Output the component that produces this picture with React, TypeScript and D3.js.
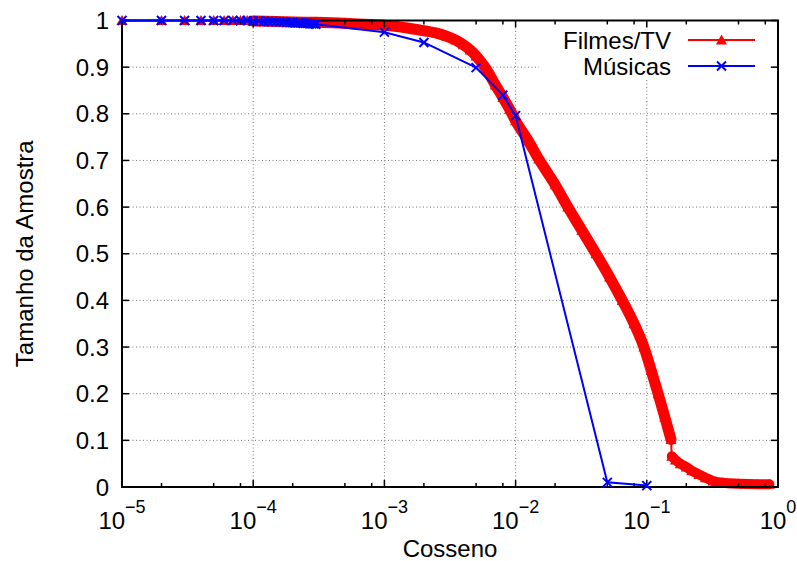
import React from "react";
import * as d3 from "d3";

const W = 797;
const H = 561;

const xTickValues = [1e-5, 1e-4, 1e-3, 1e-2, 1e-1, 1];
const xTickExponents = ["−5", "−4", "−3", "−2", "−1", "0"];
const minorMultipliers = [2, 5, 8];
const yTickValues = [0, 0.1, 0.2, 0.3, 0.4, 0.5, 0.6, 0.7, 0.8, 0.9, 1];
const yTickLabels = ["0", "0.1", "0.2", "0.3", "0.4", "0.5", "0.6", "0.7", "0.8", "0.9", "1"];

const seriesNames = ["Filmes/TV", "Músicas"];
const xTitle = "Cosseno";
const yTitle = "Tamanho da Amostra";

// Filmes/TV – sparse start
const filmesSparseX = [1e-5, 2e-5, 3e-5, 4e-5, 5e-5, 6e-5, 7e-5, 8e-5, 9e-5, 1e-4];
const filmesSparseY = [1, 1, 1, 1, 1, 1, 1, 1, 1, 0.999];
// Filmes/TV – dense part (upper)
const filmesUpperX = [
  1e-4, 1.5e-4, 2e-4, 3e-4, 5e-4, 7e-4, 1e-3, 1.5e-3, 2e-3, 2.5e-3, 3e-3, 3.5e-3, 4e-3, 4.5e-3,
  5e-3, 5.5e-3, 6e-3, 7e-3, 8e-3, 9e-3, 1e-2, 1.25e-2, 1.5e-2, 2e-2, 2.5e-2, 3.2e-2, 4.1e-2,
  5.2e-2, 6.5e-2, 8e-2, 9.5e-2, 0.108, 0.122, 0.137, 0.153,
];
const filmesUpperY = [
  0.999, 0.998, 0.997, 0.996, 0.994, 0.992, 0.99, 0.984, 0.978, 0.973, 0.966, 0.958, 0.948, 0.937,
  0.924, 0.91, 0.895, 0.862, 0.835, 0.81, 0.785, 0.742, 0.703, 0.648, 0.6, 0.55, 0.5,
  0.45, 0.4, 0.35, 0.3, 0.25, 0.2, 0.15, 0.102,
];
// Filmes/TV – dense part (lower tail)
const filmesLowerX = [0.155, 0.165, 0.18, 0.2, 0.22, 0.25, 0.28, 0.32, 0.38, 0.5, 0.7, 0.86];
const filmesLowerY = [0.066, 0.058, 0.05, 0.043, 0.035, 0.027, 0.02, 0.013, 0.009, 0.007, 0.006, 0.006];

// Músicas
const musicasX = [
  1e-5, 2e-5, 3e-5, 4e-5, 5e-5, 6e-5, 7e-5, 8e-5, 9e-5,
  1e-4, 1.1e-4, 1.2e-4, 1.3e-4, 1.4e-4, 1.5e-4, 1.6e-4, 1.7e-4, 1.8e-4, 1.9e-4, 2e-4,
  2.1e-4, 2.2e-4, 2.3e-4, 2.4e-4, 2.5e-4, 2.6e-4, 2.7e-4, 2.8e-4, 2.9e-4, 3e-4,
  1e-3, 2e-3, 5e-3, 8e-3, 1e-2, 5e-2, 1e-1,
];
const musicasY = [
  1, 1, 1, 1, 1, 1, 1, 1, 1,
  0.999, 0.999, 0.998, 0.998, 0.998, 0.997, 0.997, 0.997, 0.996, 0.996, 0.996,
  0.995, 0.995, 0.995, 0.994, 0.994, 0.994, 0.993, 0.993, 0.993, 0.992,
  0.975, 0.953, 0.899, 0.84, 0.796, 0.01, 0.003,
];

const FONT = "'Liberation Sans', Arial, Helvetica, sans-serif";
const RED = "#ff0000";
const BLUE = "#0000ff";

const left = 122;
const right = 778;
const top = 20.5;
const bottom = 487;

const x = d3.scaleLog().domain([1e-5, 1]).range([left, right]);
const y = d3.scaleLinear().domain([0, 1]).range([bottom, top]);

function pts(xs: number[], ys: number[]): [number, number][] {
  return xs.map((v, i) => [x(v), y(ys[i])]);
}

const line = d3.line<[number, number]>();
const smoothLine = d3.line<[number, number]>().curve(d3.curveMonotoneX);

function Triangle({ cx, cy }: { cx: number; cy: number }) {
  return <path d={`M${cx - 5.5},${cy + 4.5} L${cx + 5.5},${cy + 4.5} L${cx},${cy - 5.5} Z`} fill={RED} />;
}

function Cross({ cx, cy }: { cx: number; cy: number }) {
  const s = 4.5;
  return (
    <path
      d={`M${cx - s},${cy - s} L${cx + s},${cy + s} M${cx - s},${cy + s} L${cx + s},${cy - s}`}
      stroke={BLUE}
      strokeWidth={2}
    />
  );
}

export default function App() {
  const minorTicks: number[] = [];
  for (let e = -5; e < 0; e++) {
    minorMultipliers.forEach((m) => minorTicks.push(m * Math.pow(10, e)));
  }

  const sparse = pts(filmesSparseX, filmesSparseY);
  const upper = pts(filmesUpperX, filmesUpperY);
  const lower = pts(filmesLowerX, filmesLowerY);
  const allRed = [...sparse, ...upper, ...lower];
  const blue = pts(musicasX, musicasY);

  const legendX1 = 688;
  const legendX2 = 755;
  const legendY = [40, 66];

  return (
    <svg
      width={W}
      height={H}
      style={{ position: "absolute", left: 0, top: 0, background: "#fff" }}
      fontFamily={FONT}
    >
      <rect x={0} y={0} width={W} height={H} fill="#fff" />
      {/* grid */}
      <g stroke="#777" strokeWidth={1} strokeDasharray="1,2.5">
        {xTickValues.slice(1, -1).map((v, i) => (
          <line key={"gx" + i} x1={x(v)} x2={x(v)} y1={top} y2={bottom} />
        ))}
        {yTickValues.slice(1, -1).map((v, i) => (
          <line key={"gy" + i} x1={left} x2={right} y1={y(v)} y2={y(v)} />
        ))}
      </g>
      {/* legend box background */}
      <rect x={539} y={22} width={231} height={58} fill="#fff" />

      {/* Filmes/TV */}
      <path d={line(allRed) || ""} fill="none" stroke={RED} strokeWidth={2} />
      <path d={smoothLine(upper) || ""} fill="none" stroke={RED} strokeWidth={11} strokeLinejoin="round" strokeLinecap="round" />
      <path d={smoothLine(lower) || ""} fill="none" stroke={RED} strokeWidth={10} strokeLinejoin="round" strokeLinecap="round" />
      {allRed.map((p, i) => (
        <Triangle key={"t" + i} cx={p[0]} cy={p[1]} />
      ))}

      {/* axes / border */}
      <rect x={left} y={top} width={right - left} height={bottom - top} fill="none" stroke="#000" strokeWidth={2} />
      <g stroke="#000" strokeWidth={1.5}>
        {xTickValues.map((v, i) => (
          <g key={"xt" + i}>
            <line x1={x(v)} x2={x(v)} y1={bottom} y2={bottom - 7} />
            <line x1={x(v)} x2={x(v)} y1={top} y2={top + 7} />
          </g>
        ))}
        {minorTicks.map((v, i) => (
          <g key={"xm" + i}>
            <line x1={x(v)} x2={x(v)} y1={bottom} y2={bottom - 4} />
            <line x1={x(v)} x2={x(v)} y1={top} y2={top + 4} />
          </g>
        ))}
        {yTickValues.map((v, i) => (
          <g key={"yt" + i}>
            <line x1={left} x2={left + 7} y1={y(v)} y2={y(v)} />
            <line x1={right} x2={right - 7} y1={y(v)} y2={y(v)} />
          </g>
        ))}
      </g>

      {/* Músicas */}
      <path d={line(blue) || ""} fill="none" stroke={BLUE} strokeWidth={2} />
      {blue.map((p, i) => (
        <Cross key={"c" + i} cx={p[0]} cy={p[1]} />
      ))}

      {/* tick labels */}
      <g fontSize={24} fill="#000">
        {yTickValues.map((v, i) => (
          <text key={"yl" + i} x={109} y={y(v)} dy="0.36em" textAnchor="end">
            {yTickLabels[i]}
          </text>
        ))}
        {xTickValues.map((v, i) => (
          <text key={"xl" + i} x={x(v)} y={529} textAnchor="middle">
            10
            <tspan fontSize={18} dy={-16}>
              {xTickExponents[i]}
            </tspan>
          </text>
        ))}
      </g>

      {/* axis titles */}
      <text x={450} y={557} textAnchor="middle" fontSize={24}>
        {xTitle}
      </text>
      <text
        transform={`translate(33, ${(top + bottom) / 2}) rotate(-90)`}
        textAnchor="middle"
        fontSize={24}
      >
        {yTitle}
      </text>

      {/* legend */}
      <g fontSize={24}>
        <text x={671} y={legendY[0]} dy="0.36em" textAnchor="end">
          {seriesNames[0]}
        </text>
        <line x1={legendX1} x2={legendX2} y1={legendY[0]} y2={legendY[0]} stroke={RED} strokeWidth={2} />
        <Triangle cx={(legendX1 + legendX2) / 2} cy={legendY[0]} />
        <text x={671} y={legendY[1]} dy="0.36em" textAnchor="end">
          {seriesNames[1]}
        </text>
        <line x1={legendX1} x2={legendX2} y1={legendY[1]} y2={legendY[1]} stroke={BLUE} strokeWidth={2} />
        <Cross cx={(legendX1 + legendX2) / 2} cy={legendY[1]} />
      </g>
    </svg>
  );
}
